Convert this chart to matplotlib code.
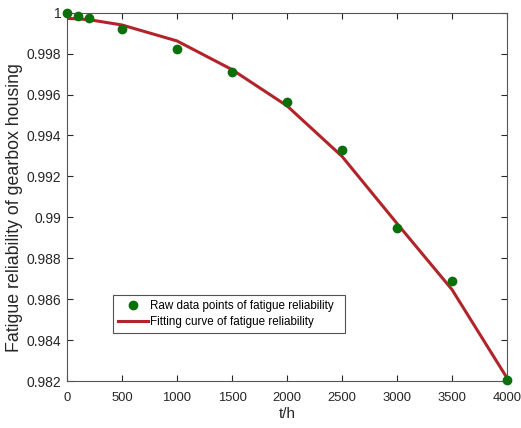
import matplotlib
matplotlib.use('Agg')
import matplotlib.pyplot as plt
from matplotlib.ticker import FuncFormatter, MultipleLocator

plt.rcParams['font.family'] = ['Liberation Sans', 'DejaVu Sans']

# operating time (h) and reliability values
t_hours = [0, 100, 200, 500, 1000, 1500, 2000, 2500, 3000, 3500, 4000]
raw_rel = [1.0, 0.99985, 0.99972, 0.99918, 0.99823, 0.99712, 0.99563,
           0.9933, 0.9895, 0.9869, 0.98205]
fit_rel = [0.99972, 0.99970, 0.99966, 0.99940, 0.99862, 0.99722, 0.99545,
           0.99298, 0.9897, 0.98647, 0.98215]

fig = plt.figure(figsize=(5.21, 4.28), dpi=100)
ax = fig.add_axes([0.1286, 0.1098, 0.8445, 0.8605])

ax.plot(t_hours, raw_rel, 'o', color='#0b700b', markersize=6,
        label='Raw data points of fatigue reliability  ', zorder=3, clip_on=False)
ax.plot(t_hours, fit_rel, '-', color='#b0242a', linewidth=2.2,
        label='Fitting curve of fatigue reliability', zorder=2)

ax.set_xlim(0, 4000)
ax.set_ylim(0.982, 1.0)
ax.xaxis.set_major_locator(MultipleLocator(500))
ax.yaxis.set_major_locator(MultipleLocator(0.002))
ax.yaxis.set_major_formatter(FuncFormatter(lambda v, p: '%g' % round(v, 4)))

ax.tick_params(direction='in', top=True, right=True, length=4, width=0.8,
               colors='#262626')
ax.tick_params(axis='x', pad=8, labelsize=9.4)
ax.tick_params(axis='y', pad=4, labelsize=10)
for s in ax.spines.values():
    s.set_color('#555555')
    s.set_linewidth(0.8)

ax.set_xlabel('t/h', fontsize=11, color='#262626', labelpad=2)
ax.set_ylabel('Fatigue reliability of gearbox housing', fontsize=12.8,
              color='#262626')
ax.yaxis.set_label_coords(-0.1, 0.47)

leg = ax.legend(loc='lower left', bbox_to_anchor=(0.105, 0.1295),
                borderaxespad=0, fontsize=8.4, frameon=True, fancybox=False,
                edgecolor='#262626', handlelength=2.5, handletextpad=0.2,
                borderpad=0.45, labelspacing=0.35)
leg.get_frame().set_linewidth(0.8)

fig.savefig('out.png', dpi=100)
